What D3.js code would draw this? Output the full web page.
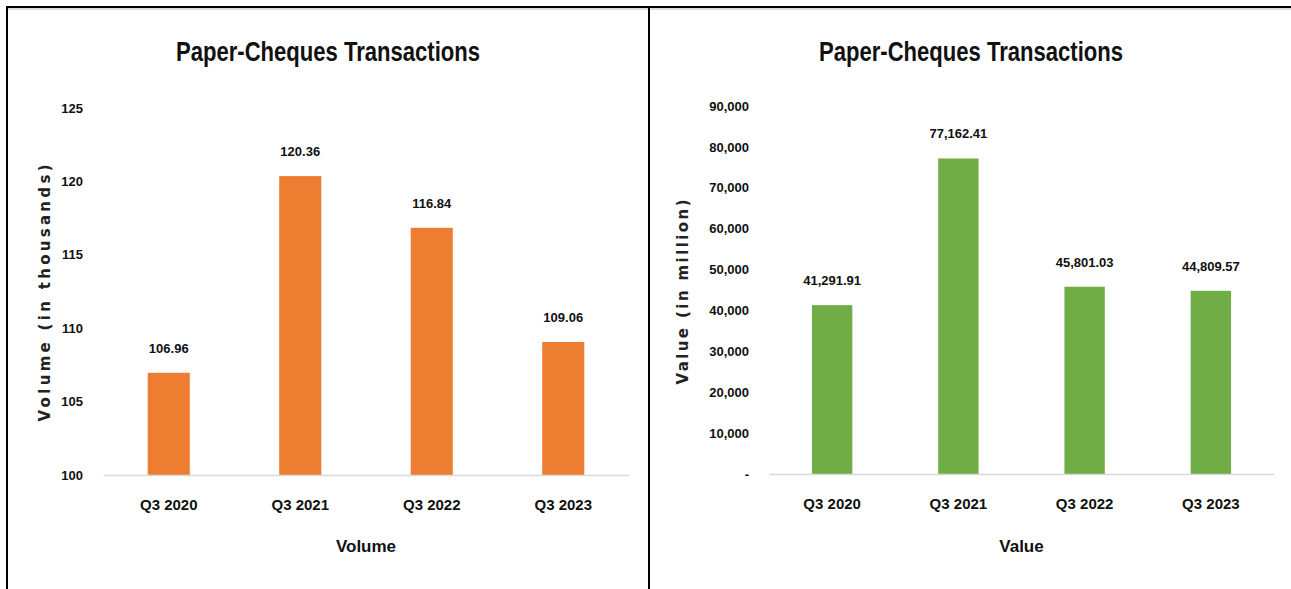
<!DOCTYPE html>
<html lang="en">
<head>
<meta charset="UTF-8">
<title>Paper-Cheques Transactions</title>
<script src="https://d3js.org/d3.v7.min.js"></script>
<style>
  body { margin: 0; background: #fff; }
  .title { font-family: "Liberation Sans", sans-serif; font-weight: bold; font-size: 28px; fill: #111; }
  .tick text { font-family: "Liberation Sans", sans-serif; font-weight: bold; fill: #111; }
  .lbl { font-family: "Liberation Sans", sans-serif; font-weight: bold; font-size: 13px; fill: #111; }
  .xtitle { font-family: "Liberation Sans", sans-serif; font-weight: bold; font-size: 17px; fill: #111; }
  .ytitle { font-family: "DejaVu Sans", sans-serif; font-weight: bold; font-size: 15px; fill: #222; }
</style>
</head>
<body>
<div id="chart"></div>
<script>
// data
const quarters = ["Q3 2020", "Q3 2021", "Q3 2022", "Q3 2023"];
const volume = [106.96, 120.36, 116.84, 109.06];
const value = [41291.91, 77162.41, 45801.03, 44809.57];
const volumeTicks = [100, 105, 110, 115, 120, 125];
const valueTicks = [0, 10000, 20000, 30000, 40000, 50000, 60000, 70000, 80000, 90000];

const W = 1291, H = 589;
const svg = d3.select("#chart").append("svg")
    .attr("width", W).attr("height", H);

// frame
svg.append("line").attr("x1", 6).attr("x2", W).attr("y1", 7).attr("y2", 7)
    .attr("stroke", "#000").attr("stroke-width", 2);
svg.append("line").attr("x1", 8).attr("x2", W).attr("y1", 9).attr("y2", 9)
    .attr("stroke", "#bbb").attr("stroke-width", 1);
svg.append("line").attr("x1", 7).attr("x2", 7).attr("y1", 6).attr("y2", H)
    .attr("stroke", "#000").attr("stroke-width", 2);
svg.append("line").attr("x1", 649).attr("x2", 649).attr("y1", 6).attr("y2", H)
    .attr("stroke", "#000").attr("stroke-width", 2);

function drawPanel(p) {
    const x = d3.scaleBand().domain(quarters)
        .range([p.left, p.right])
        .paddingInner(0.68).paddingOuter(0.34);
    const y = d3.scaleLinear().domain(p.domain).range([p.bottom, p.top]);

    const g = svg.append("g");

    g.append("text").attr("class", "title")
        .attr("x", p.titleX).attr("y", 61)
        .attr("text-anchor", "middle")
        .attr("textLength", 304).attr("lengthAdjust", "spacingAndGlyphs")
        .text("Paper-Cheques Transactions");

    // y axis (labels only)
    const ya = g.append("g")
        .attr("transform", `translate(${p.left},0)`)
        .call(d3.axisLeft(y).tickValues(p.ticks).tickSize(0).tickPadding(20).tickFormat(p.tickFmt));
    ya.select(".domain").remove();
    ya.selectAll(".tick text").style("font-size", "13px");

    // bars
    g.selectAll(".bar").data(p.values).enter().append("rect")
        .attr("x", (d, i) => x(quarters[i]))
        .attr("y", d => y(d))
        .attr("width", x.bandwidth())
        .attr("height", d => p.bottom - y(d))
        .attr("fill", p.color);

    // value labels
    g.selectAll(".lbl").data(p.values).enter().append("text")
        .attr("class", "lbl")
        .attr("x", (d, i) => x(quarters[i]) + x.bandwidth() / 2)
        .attr("y", d => y(d) - 20)
        .attr("text-anchor", "middle")
        .text(d => d3.format(",.2f")(d));

    // x axis
    const xa = g.append("g")
        .attr("transform", `translate(0,${p.bottom})`)
        .call(d3.axisBottom(x).tickSize(0).tickPadding(24));
    xa.select(".domain").attr("stroke", "#d9d9d9").attr("stroke-width", 1.5);
    xa.selectAll(".tick text").style("font-size", "15px");

    g.append("text").attr("class", "xtitle")
        .attr("x", (p.left + p.right) / 2).attr("y", 552)
        .attr("text-anchor", "middle")
        .text(p.xTitle);

    g.append("text").attr("class", "ytitle")
        .attr("transform", `translate(${p.yTitleX},${p.yTitleY}) rotate(-90)`)
        .attr("text-anchor", "middle")
        .attr("textLength", p.yTitleLen)
        .text(p.yTitle);
}

drawPanel({
    left: 103, right: 629, top: 108, bottom: 475,
    domain: [100, 125], ticks: volumeTicks, tickFmt: d3.format("d"),
    values: volume, color: "#ED7D31",
    titleX: 328, xTitle: "Volume",
    yTitle: "Volume  (in thousands)", yTitleX: 50, yTitleY: 293, yTitleLen: 257
});

drawPanel({
    left: 769, right: 1274, top: 106, bottom: 474,
    domain: [0, 90000], ticks: valueTicks, tickFmt: d => d === 0 ? "-" : d3.format(",")(d),
    values: value, color: "#70AD47",
    titleX: 971, xTitle: "Value",
    yTitle: "Value  (in million)", yTitleX: 688, yTitleY: 292, yTitleLen: 185
});
</script>
</body>
</html>
